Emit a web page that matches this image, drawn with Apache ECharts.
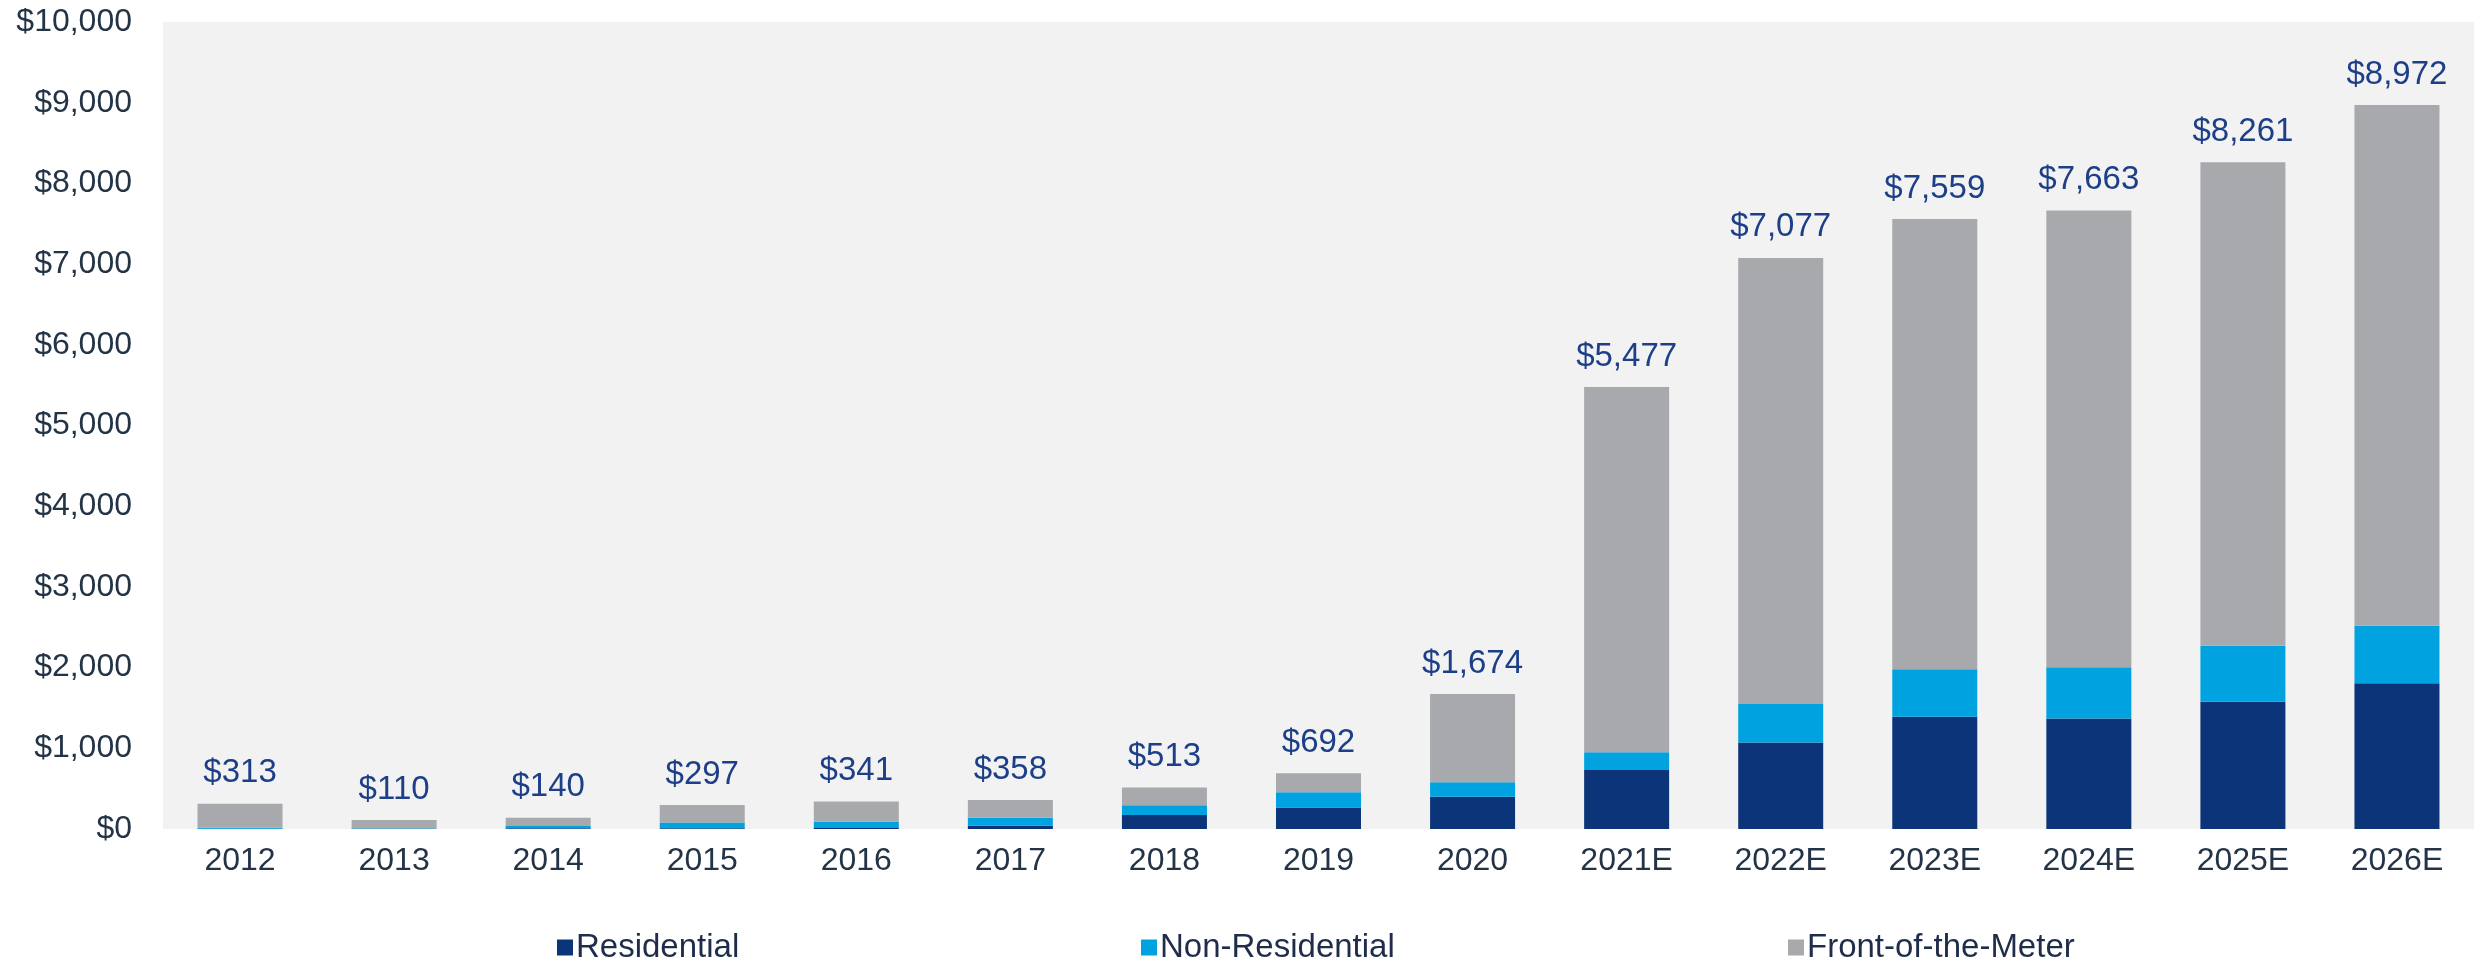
<!DOCTYPE html>
<html>
<head>
<meta charset="utf-8">
<script src="https://cdn.jsdelivr.net/npm/echarts@6/dist/echarts.min.js"></script>
<style>
html,body{margin:0;padding:0;background:#fff;}
#chart{width:2474px;height:957px;}
</style>
</head>
<body>
<div id="chart"></div>
<script>
const categories = ['2012','2013','2014','2015','2016','2017','2018','2019','2020','2021E','2022E','2023E','2024E','2025E','2026E'];
const residential = [3, 2, 8, 10, 12, 40, 175, 265, 400, 730, 1072, 1390, 1370, 1578, 1805];
const nonResidential = [12, 8, 30, 70, 78, 100, 120, 190, 178, 220, 477, 590, 635, 694, 714];
const frontOfTheMeter = [298, 100, 102, 217, 251, 218, 218, 237, 1096, 4527, 5528, 5579, 5658, 5989, 6453];
const totals = [313, 110, 140, 297, 341, 358, 513, 692, 1674, 5477, 7077, 7559, 7663, 8261, 8972];
const yTicks = [0, 1000, 2000, 3000, 4000, 5000, 6000, 7000, 8000, 9000, 10000];

const FONT = '"Liberation Sans", Arial, sans-serif';
const fmt = v => '$' + v.toLocaleString('en-US');

const chart = echarts.init(document.getElementById('chart'));
const legendCommon = {
  orient: 'horizontal', top: 926, itemWidth: 16, itemHeight: 16, itemGap: 6,
  icon: 'rect',
  textStyle: { fontFamily: FONT, fontSize: 33, color: '#1f2d4a', padding: [0,0,0,-2] }
};
chart.setOption({
  animation: false,
  grid: { left: 163, top: 22, right: 0, bottom: 128, show: true, backgroundColor: '#f2f2f2', borderWidth: 0 },
  legend: [
    Object.assign({}, legendCommon, { left: 552, data: ['Residential'] }),
    Object.assign({}, legendCommon, { left: 1136, data: ['Non-Residential'] }),
    Object.assign({}, legendCommon, { left: 1783, data: ['Front-of-the-Meter'] })
  ],
  xAxis: {
    type: 'category', data: categories,
    axisLine: { show: false }, axisTick: { show: false },
    axisLabel: { fontFamily: FONT, fontSize: 32, color: '#243447', margin: 16 }
  },
  yAxis: {
    type: 'value', min: yTicks[0], max: yTicks[yTicks.length - 1], interval: 1000,
    splitLine: { show: false }, axisLine: { show: false }, axisTick: { show: false },
    axisLabel: { fontFamily: FONT, fontSize: 32, color: '#243447', margin: 31, formatter: fmt }
  },
  series: [
    { name: 'Residential', type: 'bar', stack: 'total', barWidth: 85, data: residential,
      itemStyle: { color: '#0b3578' } },
    { name: 'Non-Residential', type: 'bar', stack: 'total', barWidth: 85, data: nonResidential,
      itemStyle: { color: '#00a3e0' } },
    { name: 'Front-of-the-Meter', type: 'bar', stack: 'total', barWidth: 85, data: frontOfTheMeter,
      itemStyle: { color: '#a7a9ac' },
      label: { show: true, position: 'top', distance: 14, fontFamily: FONT, fontSize: 33, color: '#1c3f87',
        formatter: p => fmt(totals[p.dataIndex]) } }
  ]
});
</script>
</body>
</html>
